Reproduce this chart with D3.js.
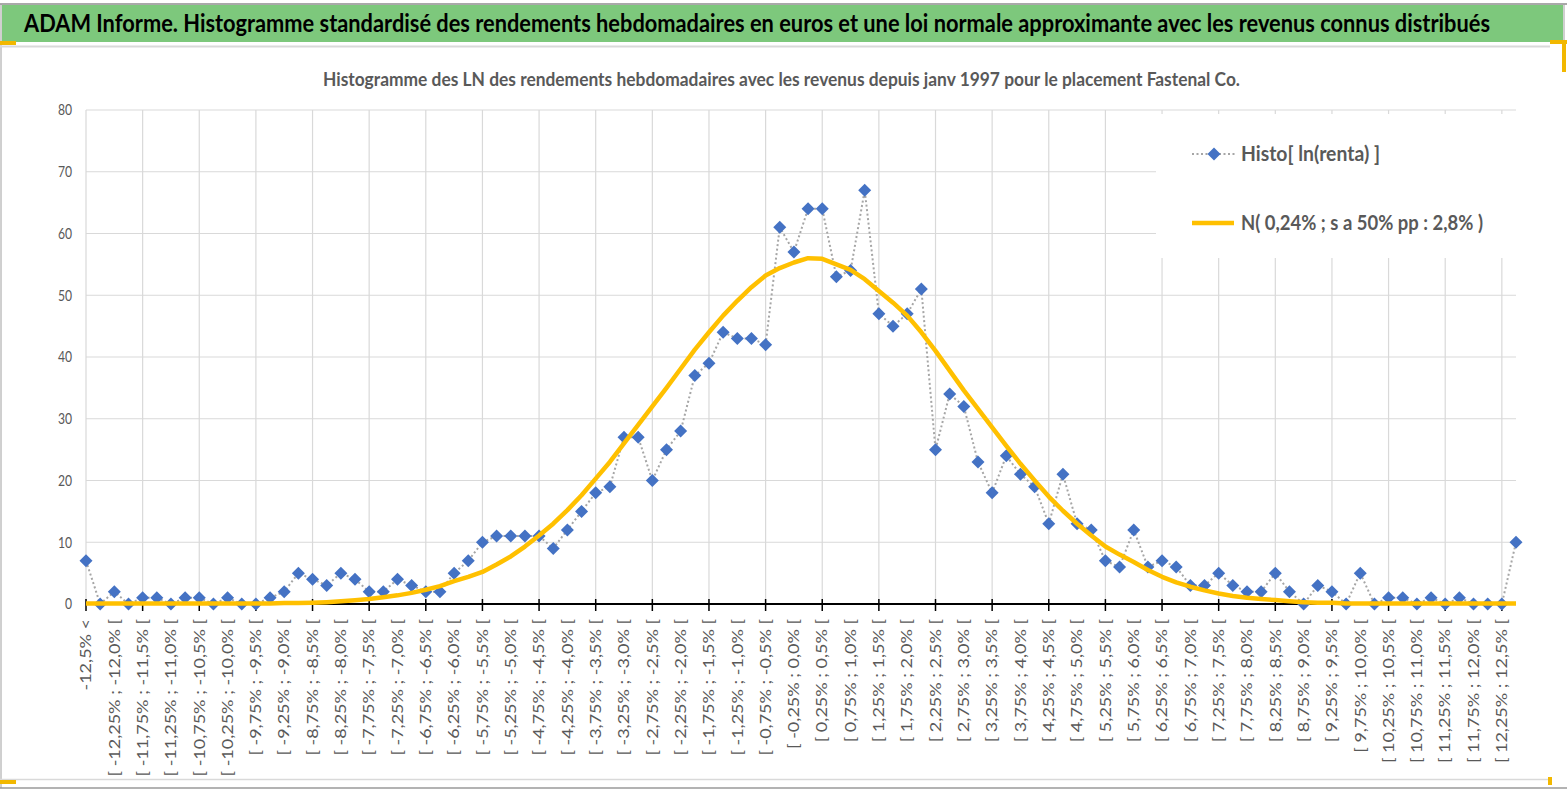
<!DOCTYPE html>
<html>
<head>
<meta charset="utf-8">
<script src="https://cdn.jsdelivr.net/npm/d3@7"></script>
<style>
  body { margin: 0; background: #fff; }
  text { font-family: Lato, "Open Sans", sans-serif; }
</style>
</head>
<body>
<div id="chart"></div>
<script>
// bin edges (tick label parts)
const edges = ["-12,5%", "-12,25%", "-12,0%", "-11,75%", "-11,5%", "-11,25%", "-11,0%", "-10,75%", "-10,5%", "-10,25%",
  "-10,0%", "-9,75%", "-9,5%", "-9,25%", "-9,0%", "-8,75%", "-8,5%", "-8,25%", "-8,0%", "-7,75%",
  "-7,5%", "-7,25%", "-7,0%", "-6,75%", "-6,5%", "-6,25%", "-6,0%", "-5,75%", "-5,5%", "-5,25%",
  "-5,0%", "-4,75%", "-4,5%", "-4,25%", "-4,0%", "-3,75%", "-3,5%", "-3,25%", "-3,0%", "-2,75%",
  "-2,5%", "-2,25%", "-2,0%", "-1,75%", "-1,5%", "-1,25%", "-1,0%", "-0,75%", "-0,5%", "-0,25%",
  "0,0%", "0,25%", "0,5%", "0,75%", "1,0%", "1,25%", "1,5%", "1,75%", "2,0%", "2,25%",
  "2,5%", "2,75%", "3,0%", "3,25%", "3,5%", "3,75%", "4,0%", "4,25%", "4,5%", "4,75%",
  "5,0%", "5,25%", "5,5%", "5,75%", "6,0%", "6,25%", "6,5%", "6,75%", "7,0%", "7,25%",
  "7,5%", "7,75%", "8,0%", "8,25%", "8,5%", "8,75%", "9,0%", "9,25%", "9,5%", "9,75%",
  "10,0%", "10,25%", "10,5%", "10,75%", "11,0%", "11,25%", "11,5%", "11,75%", "12,0%", "12,25%",
  "12,5%"];

const categories = ["-12,5% <"]
  .concat(edges.slice(1).map((e, i) => `[ ${edges[i]} ; ${e} [`))
  .concat(["12,5% <"]);

const histo = [7, 0, 2, 0, 1, 1, 0, 1, 1, 0,
  1, 0, 0, 1, 2, 5, 4, 3, 5, 4,
  2, 2, 4, 3, 2, 2, 5, 7, 10, 11,
  11, 11, 11, 9, 12, 15, 18, 19, 27, 27,
  20, 25, 28, 37, 39, 44, 43, 43, 42, 61,
  57, 64, 64, 53, 54, 67, 47, 45, 47, 51,
  25, 34, 32, 23, 18, 24, 21, 19, 13, 21,
  13, 12, 7, 6, 12, 6, 7, 6, 3, 3,
  5, 3, 2, 2, 5, 2, 0, 3, 2, 0,
  5, 0, 1, 1, 0, 1, 0, 1, 0, 0,
  0, 10];

const normale = [0.1, 0.1, 0.1, 0.1, 0.1, 0.1, 0.1, 0.1, 0.1, 0.1,
  0.1, 0.1, 0.1, 0.1, 0.15, 0.15, 0.2, 0.3, 0.45, 0.6,
  0.8, 1.1, 1.4, 1.8, 2.3, 2.9, 3.7, 4.4, 5.2, 6.4,
  7.7, 9.3, 11.1, 13.0, 15.2, 17.6, 20.3, 23.0, 26.0, 29.0,
  32.0, 35.0, 38.1, 41.2, 44.0, 46.7, 49.1, 51.3, 53.2, 54.4,
  55.3, 56.0, 55.9, 55.0, 54.1, 52.6, 50.7, 48.8, 46.7, 44.0,
  41.0, 37.8, 34.6, 31.6, 28.6, 25.6, 22.7, 20.0, 17.4, 15.1,
  13.0, 11.1, 9.3, 8.0, 6.8, 5.5, 4.4, 3.5, 2.8, 2.2,
  1.7, 1.3, 1.0, 0.8, 0.65, 0.45, 0.3, 0.2, 0.2, 0.1,
  0.1, 0.1, 0.1, 0.1, 0.1, 0.1, 0.1, 0.1, 0.1, 0.1,
  0.1, 0.1];

const yTicks = [0, 10, 20, 30, 40, 50, 60, 70, 80];

const mainTitle = "ADAM Informe. Histogramme standardisé des rendements hebdomadaires en euros et une loi normale approximante avec les revenus connus distribués";
const subTitle = "Histogramme des LN des rendements hebdomadaires avec les revenus depuis janv 1997 pour le placement Fastenal Co.";
const seriesNames = ["Histo[ ln(renta) ]", "N( 0,24% ; s a 50% pp : 2,8% )"];

const width = 1567, height = 790;
const textGray = "#595959";
const squeeze = 0.81;

const svg = d3.select("#chart").append("svg")
  .attr("width", width)
  .attr("height", height);

// frame
svg.append("rect").attr("x", 0).attr("y", 0).attr("width", width).attr("height", height).attr("fill", "#fff");
svg.append("rect").attr("x", 2).attr("y", 5).attr("width", 1561).attr("height", 37).attr("fill", "#7dc87c");
svg.append("line").attr("x1", 0).attr("x2", width).attr("y1", 4).attr("y2", 4).attr("stroke", "#8c8c8c").attr("stroke-width", 1.5);
svg.append("line").attr("x1", 1).attr("x2", 1).attr("y1", 4).attr("y2", 788).attr("stroke", "#a0a0a0");
svg.append("line").attr("x1", 1564).attr("x2", 1564).attr("y1", 4).attr("y2", 42).attr("stroke", "#a0a0a0");
svg.append("line").attr("x1", 0).attr("x2", 1550).attr("y1", 46.5).attr("y2", 46.5).attr("stroke", "#d9d9d9").attr("stroke-width", 2);
svg.append("line").attr("x1", 0).attr("x2", 1550).attr("y1", 779.5).attr("y2", 779.5).attr("stroke", "#d9d9d9").attr("stroke-width", 1.5);
svg.append("line").attr("x1", 0).attr("x2", width).attr("y1", 788).attr("y2", 788).attr("stroke", "#9a9a9a").attr("stroke-width", 1.5);
// selection handles
svg.append("rect").attr("x", 0).attr("y", 41).attr("width", 16).attr("height", 4).attr("fill", "#f2b800");
svg.append("rect").attr("x", 0).attr("y", 780).attr("width", 16).attr("height", 4).attr("fill", "#f2b800");
svg.append("rect").attr("x", 1550).attr("y", 40).attr("width", 17).attr("height", 4).attr("fill", "#f2b800");
svg.append("rect").attr("x", 1562).attr("y", 40).attr("width", 4).attr("height", 32).attr("fill", "#f2b800");
svg.append("rect").attr("x", 1548).attr("y", 777).attr("width", 4).attr("height", 8).attr("fill", "#f2b800");

svg.append("text")
  .attr("x", 24).attr("y", 32)
  .attr("font-size", 24).attr("font-weight", "bold").attr("fill", "#000")
  .attr("textLength", 1466).attr("lengthAdjust", "spacingAndGlyphs")
  .text(mainTitle);

svg.append("text")
  .attr("x", 323).attr("y", 86)
  .attr("font-size", 18).attr("font-weight", "bold").attr("fill", textGray)
  .attr("textLength", 917).attr("lengthAdjust", "spacingAndGlyphs")
  .text(subTitle);

// scales
const x = d3.scalePoint().domain(categories).range([86, 1516]);
const y = d3.scaleLinear().domain([0, 80]).range([604, 110]);

const grid = svg.append("g");
grid.selectAll(".hgrid")
  .data(yTicks.slice(1))
  .enter().append("line")
  .attr("x1", 86).attr("x2", 1516)
  .attr("y1", d => y(d)).attr("y2", d => y(d))
  .attr("stroke", "#d9d9d9").attr("stroke-width", 1.2);

const tickCats = categories.filter((c, i) => i % 4 === 0);
grid.selectAll(".vgrid")
  .data(tickCats)
  .enter().append("line")
  .attr("x1", d => x(d)).attr("x2", d => x(d))
  .attr("y1", y(80)).attr("y2", y(0))
  .attr("stroke", "#d9d9d9").attr("stroke-width", 1.2);

// y labels
svg.selectAll(".ylab")
  .data(yTicks)
  .enter().append("text")
  .attr("transform", d => `translate(72,${y(d)}) scale(${squeeze},1)`)
  .attr("dy", "0.36em")
  .attr("text-anchor", "end")
  .attr("font-size", 15).attr("fill", textGray)
  .text(d => d);

// category axis
svg.append("line")
  .attr("x1", 86).attr("x2", 1516)
  .attr("y1", y(0)).attr("y2", y(0))
  .attr("stroke", "#000").attr("stroke-width", 2);

svg.selectAll(".tick")
  .data(tickCats)
  .enter().append("line")
  .attr("x1", d => x(d)).attr("x2", d => x(d))
  .attr("y1", y(0) - 5).attr("y2", y(0) + 7)
  .attr("stroke", "#000").attr("stroke-width", 1.5);

svg.selectAll(".xlab")
  .data(categories.filter((c, i) => i % 2 === 0))
  .enter().append("text")
  .attr("transform", d => `translate(${x(d)},619) rotate(-90) scale(1,${squeeze})`)
  .attr("dy", "0.36em")
  .attr("text-anchor", "end")
  .attr("font-size", 18).attr("fill", textGray)
  .text(d => d);

// series
const histoLine = d3.line()
  .x((d, i) => x(categories[i]))
  .y(d => y(d));

svg.append("path")
  .datum(histo)
  .attr("d", histoLine)
  .attr("fill", "none")
  .attr("stroke", "#a6a6a6")
  .attr("stroke-width", 2)
  .attr("stroke-dasharray", "2,2.5");

const diamond = s => `M0,${-s}L${s},0L0,${s}L${-s},0Z`;

svg.selectAll(".pt")
  .data(histo)
  .enter().append("path")
  .attr("d", diamond(6.5))
  .attr("transform", (d, i) => `translate(${x(categories[i])},${y(d)})`)
  .attr("fill", "#4472c4");

svg.append("path")
  .datum(normale)
  .attr("d", histoLine)
  .attr("fill", "none")
  .attr("stroke", "#ffc000")
  .attr("stroke-width", 4.5)
  .attr("stroke-linejoin", "round");

// legend
const legend = svg.append("g");
legend.append("rect")
  .attr("x", 1156).attr("y", 114).attr("width", 364).attr("height", 144)
  .attr("fill", "#fff");

legend.append("line")
  .attr("x1", 1192).attr("x2", 1235).attr("y1", 154).attr("y2", 154)
  .attr("stroke", "#a6a6a6").attr("stroke-width", 2).attr("stroke-dasharray", "2,2.5");
legend.append("path")
  .attr("d", diamond(6.5))
  .attr("transform", "translate(1214,154)")
  .attr("fill", "#4472c4");
legend.append("text")
  .attr("x", 1241).attr("y", 161)
  .attr("font-size", 20).attr("font-weight", "bold").attr("fill", textGray)
  .attr("textLength", 139).attr("lengthAdjust", "spacingAndGlyphs")
  .text(seriesNames[0]);

legend.append("line")
  .attr("x1", 1192).attr("x2", 1234).attr("y1", 223).attr("y2", 223)
  .attr("stroke", "#ffc000").attr("stroke-width", 4.5);
legend.append("text")
  .attr("x", 1241).attr("y", 230)
  .attr("font-size", 20).attr("font-weight", "bold").attr("fill", textGray)
  .attr("textLength", 242).attr("lengthAdjust", "spacingAndGlyphs")
  .text(seriesNames[1]);
</script>
</body>
</html>
